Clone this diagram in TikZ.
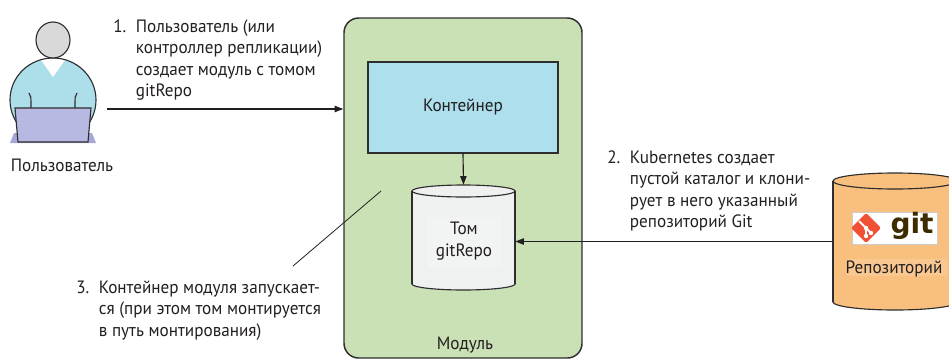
\documentclass[tikz,border=0pt]{standalone}
\usepackage{fontspec}
\setmainfont{PT Sans}[FakeStretch=0.96]
\newfontfamily\logofont{DejaVu Sans}
\usetikzlibrary{arrows.meta,fit}

\definecolor{podgreen}{HTML}{C9E1B4}
\definecolor{boxblue}{HTML}{ADDFEC}
\definecolor{volgray}{HTML}{EFF0F0}
\definecolor{repoorange}{HTML}{F9BF7E}
\definecolor{bodyblue}{HTML}{ADDFEA}
\definecolor{headgray}{HTML}{D9D9D9}
\definecolor{lav}{HTML}{B8B9E3}
\definecolor{lavdark}{HTML}{A6A7D8}
\definecolor{gitred}{HTML}{F05033}
\definecolor{gitbrown}{HTML}{3E2C00}
\definecolor{ink}{HTML}{231F20}
\definecolor{edge}{HTML}{2E2E2E}

% vertical drum: x-left, x-right, top centre y, bottom centre y, y radius, fill
\newcommand\drumcyl[6]{%
  \draw[edge, line width=0.85pt, fill=#6] ({(#1+#2)/2},#4) ellipse[x radius={(#2-#1)/2}, y radius=#5];
  \fill[#6] (#1,#3) rectangle (#2,#4);
  \draw[edge, line width=0.85pt] (#1,#3) -- (#1,#4) (#2,#3) -- (#2,#4);
  \draw[edge, line width=0.85pt, fill=#6] ({(#1+#2)/2},#3) ellipse[x radius={(#2-#1)/2}, y radius=#5];
}

\tikzset{
  txt/.style={text=ink, font=\fontsize{13.4}{16.2}\selectfont, inner sep=0pt},
  arr/.style={draw=ink, line width=0.85pt, -{Triangle[length=6.5pt,width=4.8pt]}},
  outline/.style={draw=edge, line width=0.85pt},
}

\begin{document}
\begin{tikzpicture}[x=0.75pt,y=-0.75pt]
\useasboundingbox (0,0) rectangle (949,361);

% pod
\node[fit={(344,18)(582,358)}, inner sep=0pt, draw=edge, line width=1.1pt,
      fill=podgreen, rounded corners=11pt] (pod) {};
\node[txt, anchor=base] (podlbl) at (465,349) {Модуль};

% container
\node[fit={(368,62)(558,153)}, inner sep=0pt, outline, fill=boxblue] (cont) {};
\node[txt] (contlbl) at (cont.center) {Контейнер};

% gitRepo volume
\drumcyl{412}{515}{191}{284}{6}{volgray}
\fill[white, opacity=0.22] (427,217) rectangle (502,267);
\node[fit={(412,185)(515,290)}, inner sep=0pt] (vol) {};
\node[txt, align=center] (vollbl) at (464,241) {Том\\gitRepo};

% repository drum, running past the right edge
\begin{scope}
  \clip (0,0) rectangle (949,361);
  \drumcyl{833}{957}{181}{302}{8}{repoorange}
  \fill[white, opacity=0.15] (847,259) rectangle (947,276);
\end{scope}
\node[fit={(833,181)(949,302)}, inner sep=0pt] (repo) {};
\node[txt] (repolbl) at (894,269) {Репозиторий};

% git logo
\node[fit={(852,212)(937,244)}, inner sep=0pt, draw=gray!40, line width=0.4pt, fill=white] (gitlogo) {};
\fill[gitred, rounded corners=1.5pt] (866,213) -- (881,228) -- (866,243) -- (851,228) -- cycle;
\draw[white, line width=1.4pt] (859,221) -- (866,228) -- (866,236) (866,228) -- (871,233);
\fill[white] (866,228) circle[radius=2.2] (866,236) circle[radius=2.2] (871,233) circle[radius=2.2];
\node[text=gitbrown, font=\logofont\bfseries\fontsize{21}{21}\selectfont, inner sep=0pt] (gittxt) at (912,226) {git};

% user
\begin{scope}
  \clip (53,100) ellipse[x radius=43, y radius=42];
  \fill[bodyblue] (53,100) ellipse[x radius=43, y radius=42];
  \fill[white] (34,50) -- (72,50) -- (53,77) -- cycle;
\end{scope}
\draw[outline] (53,100) ellipse[x radius=43, y radius=42];
\draw[outline, fill=headgray] (53,40) ellipse[x radius=17, y radius=18];
\draw[outline] (29,93) .. controls (31,96) .. (31,109);
\draw[outline] (77,93) .. controls (75,96) .. (75,109);
\fill[lavdark] (10,143) -- (96,143) -- (92,133) -- (14,133) -- cycle;
\draw[outline, fill=lav] (15,108) -- (91,108) -- (88,142) -- (18,142) -- cycle;
\node[fit={(10,22)(96,143)}, inner sep=0pt] (user) {};
\node[txt] (userlbl) at (62,165) {Пользователь};

% connectors
\coordinate (a1) at (107,109);
\draw[arr] (a1) -- (a1 -| pod.west);
\draw[arr] (cont.south) -- (vol.north);
\draw[arr] (repo.west) -- (repo.west -| vol.east);
\coordinate (l3a) at (293,266);
\coordinate (l3b) at (381,191);
\draw[draw=ink, line width=0.6pt] (l3a) -- (l3b);

% step notes
\node[txt, anchor=base west] (step1) at (113,32) {%
  \begin{tabular}[t]{@{}l@{}l@{}}
  \makebox[17pt][l]{1.}&Пользователь (или\\
  &контроллер репликации)\\
  &создает модуль с томом\\
  &gitRepo
  \end{tabular}};
\node[txt, anchor=base west] (step2) at (607,163) {%
  \begin{tabular}[t]{@{}l@{}l@{}}
  \makebox[17pt][l]{2.}&Kubernetes создает\\
  &пустой каталог и клони-\\
  &рует в него указанный\\
  &репозиторий Git
  \end{tabular}};
\node[txt, anchor=base west] (step3) at (76,293) {%
  \begin{tabular}[t]{@{}l@{}l@{}}
  \makebox[17pt][l]{3.}&Контейнер модуля запускает-\\
  &ся (при этом том монтируется\\
  &в путь монтирования)
  \end{tabular}};
\end{tikzpicture}
\end{document}
